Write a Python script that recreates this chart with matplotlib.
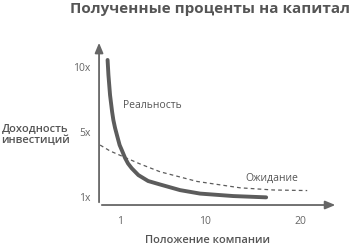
import matplotlib
matplotlib.use("Agg")
import matplotlib.pyplot as plt

# values
real_x = [-0.32, -0.23, -0.06, 0.16, 0.29, 0.47, 0.72, 0.95, 1.18, 1.53, 1.84, 2.23,
          2.93, 3.96, 5.22, 7.33, 9.44, 12.93, 16.41]
real_y = [10.49, 9.45, 8.06, 6.89, 6.33, 5.78, 5.16, 4.60, 4.25, 3.70, 3.32, 2.99,
          2.52, 2.11, 1.87, 1.48, 1.24, 1.07, 0.98]

expect_x = [-1.11, -0.06, 1.53, 3.11, 5.22, 9.13, 13.67, 17.15, 20.74]
expect_y = [4.60, 4.19, 3.74, 3.29, 2.75, 2.08, 1.64, 1.49, 1.45]

x_ticks = [1, 10, 20]
x_labels = ["1", "10", "20"]
y_ticks = [1, 5.5, 10]
y_labels = ["1x", "5x", "10x"]

gray = "#5c5c5c"
font = ["Open Sans", "DejaVu Sans"]


def main():
  fig = plt.figure(figsize=(3.5, 2.47), dpi=100)
  ax = fig.add_axes([0.283, 0.170, 0.683, 0.668])

  ax.plot(real_x, real_y, color=gray, lw=2.8, solid_capstyle="round",
          solid_joinstyle="round")
  ax.plot(expect_x, expect_y, color=gray, lw=0.9, dashes=(3, 2.5))

  ax.set_xlim(-1.22, 24.0)
  ax.set_ylim(0.45, 11.87)

  for s in ax.spines.values():
    s.set_visible(False)

  # axis arrows
  arrow = dict(arrowstyle="-|>,head_length=0.6,head_width=0.25", color="#666666", lw=1.3)
  ax.annotate("", xy=(0, 1), xytext=(0, 0), xycoords="axes fraction", arrowprops=arrow)
  ax.annotate("", xy=(1, 0), xytext=(0, 0), xycoords="axes fraction", arrowprops=arrow)

  ax.set_xticks(x_ticks)
  ax.set_xticklabels(x_labels)
  ax.set_yticks(y_ticks)
  ax.set_yticklabels(y_labels)
  ax.tick_params(axis="x", length=0, labelsize=7.5, labelcolor="#666666", pad=8)
  ax.tick_params(axis="y", length=0, labelsize=7.5, labelcolor="#666666", pad=6)
  for t in ax.get_xticklabels() + ax.get_yticklabels():
    t.set_family(font)

  ax.text(1.3, 7.37, "Реальность", fontsize=7.5, color="#555555", family=font,
          va="center")
  ax.text(14.2, 2.32, "Ожидание", fontsize=7.5, color="#555555", family=font,
          va="center")

  fig.text(0.6, 0.962, "Полученные проценты на капитал", ha="center", va="center",
           fontsize=11, fontweight="bold", color="#555555", family=font)
  fig.text(0.10, 0.457, "Доходность\nинвестиций", ha="center", va="center",
           fontsize=8, fontweight="semibold", color="#555555", family=font,
           linespacing=1.15)
  fig.text(0.594, 0.025, "Положение компании", ha="center", va="center",
           fontsize=8, fontweight="semibold", color="#555555", family=font)

  fig.savefig("out.png", dpi=100)


if __name__ == "__main__":

  main()
